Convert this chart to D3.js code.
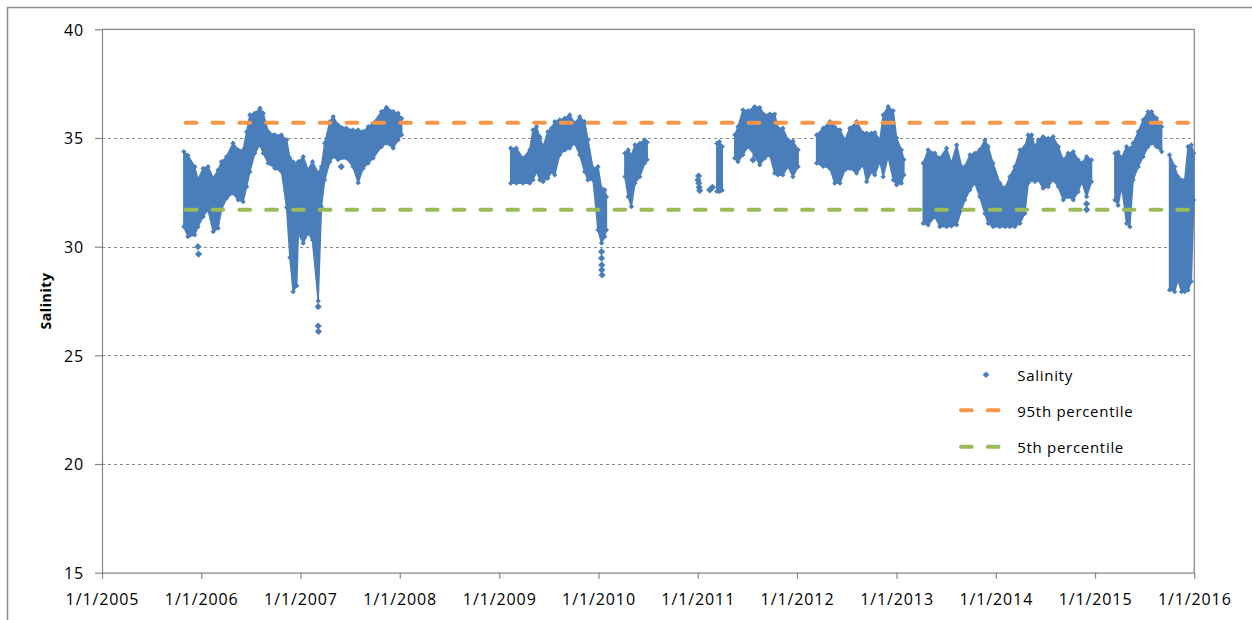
<!DOCTYPE html>
<html>
<head>
<meta charset="utf-8">
<script src="https://cdn.jsdelivr.net/npm/d3@7"></script>
<style>
	body { margin: 0; background: #fff; }
	text { font-family: 'Open Sans', sans-serif; fill: #000; }
</style>
</head>
<body>
<script>
// tick values
const yTicks = [15, 20, 25, 30, 35, 40];
const xTickYears = [2005, 2006, 2007, 2008, 2009, 2010, 2011, 2012, 2013, 2014, 2015, 2016];

// percentile lines
const pctDates = ['2005-11-05', '2016-01-01'];
const p95 = 35.7;
const p5 = 31.7;

// salinity envelope per period: [date, low, high]
const seg2006 = [
	['2005-10-29', 30.92, 34.37], ['2005-11-13', 30.46, 34.2], ['2005-12-08', 30.54, 33.68],
	['2005-12-20', 30.92, 33.07], ['2006-01-08', 31.38, 33.6], ['2006-01-26', 31.69, 33.68],
	['2006-02-14', 30.69, 33.15], ['2006-03-04', 30.85, 33.53], ['2006-03-16', 31.69, 33.91],
	['2006-04-04', 32.23, 34.14], ['2006-04-28', 32.46, 34.76], ['2006-05-17', 32.15, 34.45],
	['2006-06-04', 32.07, 34.45], ['2006-06-17', 32.76, 35.29], ['2006-06-29', 33.45, 36.06],
	['2006-07-17', 34.3, 36.14], ['2006-08-05', 34.68, 36.37], ['2006-08-17', 34.3, 36.14],
	['2006-09-04', 33.84, 35.29], ['2006-09-29', 33.6, 35.14], ['2006-10-23', 33.45, 35.14],
	['2006-11-11', 31.8, 34.91], ['2006-11-23', 29.5, 34.07], ['2006-12-05', 27.93, 33.9],
	['2006-12-18', 28.2, 33.8], ['2006-12-24', 30.62, 33.91], ['2007-01-11', 30.16, 34.14],
	['2007-01-29', 30.62, 33.53], ['2007-02-14', 30.31, 33.91], ['2007-03-07', 27.5, 33.38],
	['2007-03-19', 31.84, 33.68], ['2007-03-31', 33.07, 34.76], ['2007-04-19', 33.91, 35.75],
	['2007-05-01', 34.14, 35.98], ['2007-05-19', 34.0, 35.6], ['2007-06-19', 34.07, 35.45],
	['2007-07-13', 33.68, 35.37], ['2007-08-01', 32.94, 35.37], ['2007-08-19', 33.6, 35.29],
	['2007-09-07', 33.84, 35.52], ['2007-09-25', 34.07, 35.68], ['2007-10-26', 34.6, 36.21],
	['2007-11-13', 34.76, 36.41], ['2007-12-08', 34.53, 36.21], ['2007-12-26', 34.91, 36.14],
	['2008-01-08', 35.14, 35.9]
];
const seg2009 = [
	['2009-02-12', 32.92, 34.53], ['2009-03-05', 32.92, 34.53], ['2009-03-29', 32.92, 34.07],
	['2009-04-23', 32.92, 34.45], ['2009-05-05', 33.07, 35.37], ['2009-05-18', 33.45, 35.52],
	['2009-05-30', 33.07, 35.06], ['2009-06-11', 32.99, 34.6], ['2009-06-29', 33.15, 35.29],
	['2009-07-12', 33.45, 35.45], ['2009-07-24', 33.3, 35.75], ['2009-08-11', 34.22, 35.83],
	['2009-08-30', 34.45, 35.91], ['2009-09-17', 34.53, 36.06], ['2009-10-05', 34.76, 35.68],
	['2009-10-24', 34.22, 35.98], ['2009-11-11', 33.45, 35.75], ['2009-11-23', 33.07, 34.91],
	['2009-12-12', 33.07, 33.6], ['2009-12-30', 30.77, 33.68], ['2010-01-12', 30.16, 32.69],
	['2010-01-24', 30.46, 32.61], ['2010-01-30', 30.77, 32.3]
];
const seg2010 = [
	['2010-04-08', 33.22, 34.3], ['2010-04-20', 32.3, 34.45], ['2010-05-02', 31.84, 34.2],
	['2010-05-15', 32.92, 34.68], ['2010-06-02', 33.22, 34.76], ['2010-06-20', 33.84, 34.91],
	['2010-06-29', 34.0, 34.8]
];
const seg2011a = [
	['2011-03-12', 32.55, 34.75], ['2011-03-22', 32.53, 34.83], ['2011-04-01', 32.6, 34.6]
];
const seg2011b = [
	['2011-05-17', 34.07, 35.14], ['2011-05-29', 33.91, 35.52], ['2011-06-16', 34.22, 36.29],
	['2011-07-05', 34.6, 36.25], ['2011-07-29', 34.2, 36.44], ['2011-08-17', 33.76, 36.4],
	['2011-09-04', 34.07, 36.06], ['2011-09-23', 34.2, 36.1], ['2011-10-11', 33.38, 36.1],
	['2011-10-23', 33.3, 35.45], ['2011-11-10', 33.3, 35.45], ['2011-11-29', 33.68, 34.91],
	['2011-12-17', 33.22, 34.85], ['2012-01-05', 33.68, 34.45]
];
const seg2012 = [
	['2012-03-13', 33.84, 35.14], ['2012-04-06', 33.7, 35.45], ['2012-05-01', 33.6, 35.75],
	['2012-05-19', 32.92, 35.5], ['2012-06-07', 32.92, 35.37], ['2012-06-25', 33.53, 34.91],
	['2012-07-13', 33.6, 35.45], ['2012-08-07', 33.38, 35.75], ['2012-08-31', 33.76, 35.22],
	['2012-09-13', 32.99, 35.22], ['2012-10-01', 33.45, 35.22], ['2012-10-13', 33.3, 35.25],
	['2012-11-01', 33.91, 34.91], ['2012-11-13', 33.22, 36.06], ['2012-12-01', 34.14, 36.44],
	['2012-12-20', 33.07, 36.25], ['2013-01-01', 32.84, 35.0], ['2013-01-19', 32.92, 34.45],
	['2013-01-28', 33.3, 34.0]
];
const seg2013 = [
	['2013-04-09', 31.07, 33.84], ['2013-04-27', 31.0, 34.45], ['2013-05-22', 31.38, 34.3],
	['2013-06-09', 30.92, 34.07], ['2013-07-04', 30.92, 34.53], ['2013-07-22', 30.95, 33.84],
	['2013-08-10', 31.0, 34.68], ['2013-08-28', 31.69, 33.68], ['2013-09-09', 32.15, 33.68],
	['2013-09-28', 32.61, 34.22], ['2013-10-16', 32.92, 34.3], ['2013-11-03', 32.3, 34.45],
	['2013-11-22', 31.53, 34.91], ['2013-12-04', 31.07, 34.6], ['2013-12-22', 30.92, 33.84],
	['2014-01-16', 30.92, 32.92], ['2014-02-04', 30.92, 32.7], ['2014-02-22', 30.92, 33.22],
	['2014-03-12', 30.92, 33.68], ['2014-03-31', 31.07, 34.45], ['2014-04-18', 31.53, 34.6],
	['2014-04-30', 32.92, 35.14], ['2014-05-13', 33.07, 35.14], ['2014-05-25', 32.99, 34.6],
	['2014-06-06', 33.07, 34.91], ['2014-06-24', 32.69, 35.06], ['2014-07-13', 32.76, 34.98],
	['2014-07-31', 33.07, 35.06], ['2014-08-19', 32.76, 34.6], ['2014-09-06', 32.15, 33.99],
	['2014-09-24', 32.3, 34.3], ['2014-10-13', 32.15, 34.37], ['2014-10-31', 32.53, 33.99],
	['2014-11-13', 32.99, 33.84], ['2014-12-01', 32.3, 34.14], ['2014-12-19', 32.99, 33.99]
];
const seg2015a = [
	['2015-03-15', 32.15, 34.3], ['2015-03-27', 31.9, 34.35], ['2015-04-09', 32.76, 34.1],
	['2015-04-27', 31.07, 34.6], ['2015-05-09', 30.92, 34.5], ['2015-05-21', 33.07, 34.76],
	['2015-06-09', 33.68, 35.29], ['2015-06-27', 34.14, 35.83], ['2015-07-15', 34.6, 36.21],
	['2015-07-28', 34.76, 36.21], ['2015-08-15', 34.6, 35.91], ['2015-09-03', 34.37, 35.52]
];
const seg2015b = [
	['2015-10-02', 28.01, 34.22], ['2015-10-21', 27.93, 33.68], ['2015-11-02', 28.47, 33.22],
	['2015-11-15', 27.93, 33.07], ['2015-11-27', 27.93, 33.07], ['2015-12-09', 28.0, 34.6],
	['2015-12-21', 28.4, 34.68], ['2015-12-30', 32.15, 34.3]
];

// single readings standing apart from the bands
const salinityPoints = [
	['2005-12-20', 30.0], ['2005-12-22', 29.66],
	['2007-03-07', 27.24], ['2007-03-07', 26.35], ['2007-03-08', 26.1],
	['2007-05-31', 33.68],
	['2010-01-12', 29.77], ['2010-01-12', 29.47], ['2010-01-13', 29.16], ['2010-01-13', 28.93], ['2010-01-14', 28.7],
	['2011-01-04', 33.25], ['2011-01-02', 33.07], ['2011-01-05', 32.92], ['2011-01-06', 32.73], ['2011-01-08', 32.58],
	['2011-02-14', 32.61], ['2011-02-24', 32.73],
	['2011-07-23', 33.99],
	['2014-12-01', 31.97], ['2014-12-01', 31.7]
];

const segments = [seg2006, seg2009, seg2010, seg2011a, seg2011b, seg2012, seg2013, seg2015a, seg2015b];

const blue = '#4a7ebb';
const orange = '#f79646';
const green = '#9bbb59';
const axisGrey = '#868686';

const parseDate = d3.timeParse('%Y-%m-%d');
const margin = { top: 29.3, right: 57.7, bottom: 47.3, left: 102 };
const width = 1252, height = 620;

const x = d3.scaleTime()
	.domain([new Date(2005, 0, 1), new Date(2016, 0, 1)])
	.range([margin.left, width - margin.right]);
const y = d3.scaleLinear()
	.domain([15, 40])
	.range([height - margin.bottom, margin.top]);

const svg = d3.select('body').append('svg')
	.attr('width', width)
	.attr('height', height);

// chart area border (only top/left visible)
svg.append('rect')
	.attr('x', 7.5).attr('y', 7.5)
	.attr('width', 1400).attr('height', 800)
	.attr('fill', 'none').attr('stroke', '#8c8c8c').attr('stroke-width', 1.5);

// gridlines
svg.append('g').selectAll('line')
	.data(yTicks.filter(d => d > 15 && d < 40))
	.join('line')
	.attr('x1', x.range()[0]).attr('x2', x.range()[1])
	.attr('y1', d => Math.round(y(d)) + 0.5).attr('y2', d => Math.round(y(d)) + 0.5)
	.attr('stroke', '#8a8a8a').attr('stroke-dasharray', '3,3');

// plot border top / right
svg.append('path')
	.attr('d', `M${x.range()[0]},${y(40)}H${x.range()[1]}V${y(15)}`)
	.attr('fill', 'none').attr('stroke', axisGrey).attr('stroke-width', 1.2);

// salinity bands
const band = d3.area()
	.x(d => x(parseDate(d[0])))
	.y0(d => y(d[1]))
	.y1(d => y(d[2]));

const dataLayer = svg.append('g');
dataLayer.selectAll('path.band')
	.data(segments)
	.join('path')
	.attr('class', 'band')
	.attr('d', band)
	.attr('fill', blue)
	.attr('stroke', blue)
	.attr('stroke-width', 1.5)
	.attr('stroke-linejoin', 'round');

// markers along the band edges give the scatter its ragged outline
const edgeMarks = segments.flat().flatMap(d => [[d[0], d[1]], [d[0], d[2]]]);
const smallDiamond = d3.symbol(d3.symbolSquare, 14);
dataLayer.selectAll('path.edge')
	.data(edgeMarks)
	.join('path')
	.attr('class', 'edge')
	.attr('d', smallDiamond)
	.attr('transform', d => `translate(${x(parseDate(d[0]))},${y(d[1])}) rotate(45)`)
	.attr('fill', blue);

const diamond = d3.symbol(d3.symbolSquare, 26);
dataLayer.selectAll('path.pt')
	.data(salinityPoints)
	.join('path')
	.attr('class', 'pt')
	.attr('d', diamond)
	.attr('transform', d => `translate(${x(parseDate(d[0]))},${y(d[1])}) rotate(45)`)
	.attr('fill', blue);

// percentile lines
function pctLine(val, color) {
	svg.append('line')
		.attr('x1', x(parseDate(pctDates[0]))).attr('x2', x(parseDate(pctDates[1])))
		.attr('y1', y(val)).attr('y2', y(val))
		.attr('stroke', color).attr('stroke-width', 4)
		.attr('stroke-linecap', 'round')
		.attr('stroke-dasharray', '10.7,16.1');
}
pctLine(p95, orange);
pctLine(p5, green);

// Add the X Axis
const xAxis = svg.append('g')
	.attr('transform', 'translate(0,' + y(15) + ')')
	.call(d3.axisBottom(x)
		.tickValues(xTickYears.map(yr => new Date(yr, 0, 1)))
		.tickFormat(d3.timeFormat('%-m/%-d/%Y'))
		.tickSize(6).tickSizeOuter(0));
xAxis.select('.domain').attr('stroke', axisGrey).attr('stroke-width', 1.2);
xAxis.selectAll('.tick line').attr('stroke', axisGrey).attr('stroke-width', 1.2);
xAxis.selectAll('.tick text')
	.attr('y', 32).attr('dy', 0)
	.style('font-size', '16px').style('letter-spacing', '0.9px')
	.style('font-family', "'Open Sans', sans-serif").attr('fill', '#000');

// Add the Y Axis
const yAxis = svg.append('g')
	.attr('transform', 'translate(' + x.range()[0] + ',0)')
	.call(d3.axisLeft(y).tickValues(yTicks).tickSize(7).tickSizeOuter(0).tickPadding(11));
yAxis.select('.domain').attr('stroke', axisGrey).attr('stroke-width', 1.2);
yAxis.selectAll('.tick line').attr('stroke', axisGrey).attr('stroke-width', 1.2);
yAxis.selectAll('.tick text')
	.attr('dy', '0.36em')
	.style('font-size', '16px').style('letter-spacing', '0.9px')
	.style('font-family', "'Open Sans', sans-serif").attr('fill', '#000');

// axis title
svg.append('text')
	.attr('transform', 'translate(51,' + ((y(15) + y(40)) / 2) + ') rotate(-90)')
	.attr('text-anchor', 'middle')
	.style('font-size', '14px').style('font-weight', 'bold').style('letter-spacing', '0.6px')
	.text('Salinity');

// legend
const legend = svg.append('g');
legend.append('path')
	.attr('d', d3.symbol(d3.symbolSquare, 22))
	.attr('transform', 'translate(986,374.7) rotate(45)')
	.attr('fill', blue);
const legendLines = [[410.3, orange], [446.7, green]];
legend.selectAll('line')
	.data(legendLines)
	.join('line')
	.attr('x1', 961).attr('x2', 1000)
	.attr('y1', d => d[0]).attr('y2', d => d[0])
	.attr('stroke', d => d[1]).attr('stroke-width', 4)
	.attr('stroke-linecap', 'round').attr('stroke-dasharray', '10.7,16.1');
const legendLabels = [['Salinity', 381], ['95th percentile', 416.7], ['5th percentile', 453]];
legend.selectAll('text')
	.data(legendLabels)
	.join('text')
	.attr('x', 1017.3).attr('y', d => d[1])
	.style('font-size', '15px').style('letter-spacing', '0.7px')
	.text(d => d[0]);
</script>
</body>
</html>
